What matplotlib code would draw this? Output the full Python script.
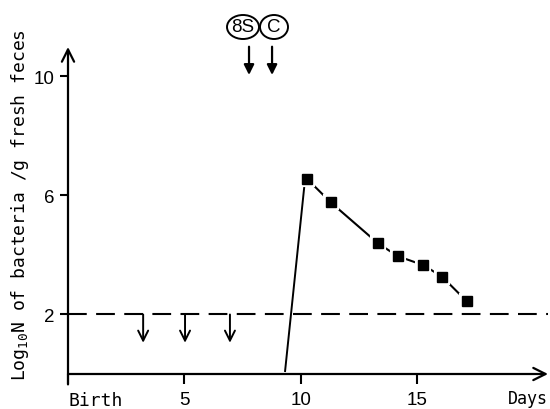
import matplotlib
matplotlib.use("Agg")
import matplotlib.pyplot as plt
from matplotlib.patches import Ellipse

plt.rcParams["mathtext.fontset"] = "custom"
plt.rcParams["mathtext.rm"] = "DejaVu Sans Mono"

# data (days after birth, log10 N / g feces)
days = [10.26, 11.29, 13.31, 14.17, 15.27, 16.08, 17.13]
counts = [6.57, 5.77, 4.40, 3.96, 3.66, 3.27, 2.45]
rise_days = [9.33, 10.15]
rise_counts = [0.1, 6.26]
detect_limit = 2
below_limit_days = [3.23, 5.03, 6.96]
dose_days = [7.78, 8.77]
dose_labels = ["8S", "C"]
xticks = [0, 5, 10, 15]
xticklabels = ["Birth", "5", "10", "15"]
yticks = [2, 6, 10]

XMAX, YMAX = 20.63, 10.99
MONO = "DejaVu Sans Mono"
SANS = "Liberation Sans"

fig = plt.figure(figsize=(5.5, 4.1), dpi=100)
ax = fig.add_axes([68 / 550, 35 / 410, 480 / 550, 327 / 410])
ax.set_xlim(0, XMAX)
ax.set_ylim(0, YMAX)
for s in ax.spines.values():
    s.set_visible(False)

# axes with arrow heads
ax.annotate("", xy=(XMAX, 0), xytext=(0, 0),
            arrowprops=dict(arrowstyle="->", lw=1.6, color="black", mutation_scale=22,
                            shrinkA=0, shrinkB=0), annotation_clip=False)
ax.annotate("", xy=(0, YMAX), xytext=(0, -0.35),
            arrowprops=dict(arrowstyle="->", lw=1.6, color="black", mutation_scale=22,
                            shrinkA=0, shrinkB=0), annotation_clip=False)

ax.set_xticks(xticks)
ax.set_xticklabels(xticklabels)
ax.set_yticks(yticks)
ax.set_yticklabels([str(v) for v in yticks])
ax.tick_params(axis="both", direction="out", width=1.5, color="black")
ax.tick_params(axis="x", length=7, pad=5)
ax.tick_params(axis="y", length=6, pad=4)
for lab in ax.get_yticklabels():
    lab.set_fontfamily(SANS)
    lab.set_fontsize(13.5)
for i, lab in enumerate(ax.get_xticklabels()):
    if i == 0:
        lab.set_fontfamily(MONO)
        lab.set_fontsize(13)
        lab.set_horizontalalignment("left")
    else:
        lab.set_fontfamily(SANS)
        lab.set_fontsize(13.5)

ax.text(XMAX, -0.5, "Days", ha="right", va="top", fontsize=12, family=MONO,
        clip_on=False)

# detection limit
ax.axhline(detect_limit, color="black", lw=1.5, dashes=(9, 4.5))
for d in below_limit_days:
    ax.annotate("", xy=(d, 1.05), xytext=(d, detect_limit),
                arrowprops=dict(arrowstyle="->", lw=1.4, color="black", mutation_scale=18,
                                shrinkA=0, shrinkB=0))

# counts
ax.plot(rise_days, rise_counts, color="black", lw=1.4)
ax.plot(days, counts, color="black", lw=1.5, marker="s", markersize=9,
        markerfacecolor="black", markeredgecolor="white", markeredgewidth=3)
ax.plot(days, counts, ls="none", marker="s", markersize=7.5, color="black")

# dosing arrows and labels
for d in dose_days:
    ax.annotate("", xy=(d, 10.05), xytext=(d, 11.0),
                arrowprops=dict(arrowstyle="-|>", lw=1.6, color="black", mutation_scale=15,
                                shrinkA=0, shrinkB=0), annotation_clip=False)
circles = [(243, 32), (274, 28)]
for (cx, w), lab in zip(circles, dose_labels):
    fig.patches.append(Ellipse((cx / 550, 1 - 28 / 410), w / 550, 24 / 410,
                               transform=fig.transFigure, fill=False, lw=1.4,
                               edgecolor="black"))
    fig.text(cx / 550, 1 - 28 / 410, lab, ha="center", va="center", fontsize=13.5,
             family=SANS)

fig.text(20 / 550, 1 - 205 / 410, "Log$_{10}$N of bacteria /g fresh feces", rotation=90,
         ha="center", va="center", fontsize=13, family=MONO)

fig.savefig("out.png", dpi=100, facecolor="white")
